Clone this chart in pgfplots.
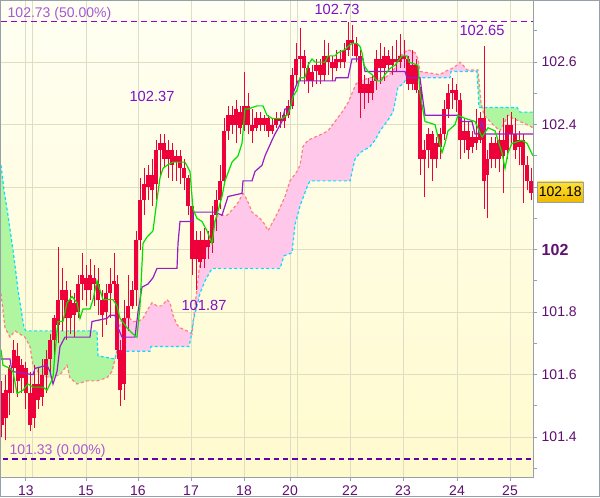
\documentclass[border=0pt]{standalone}
\usepackage{fontspec}
\setmainfont{Liberation Sans}
\usepackage{pgfplots}
\usepackage{pgfplotstable}
\pgfplotsset{compat=1.18}

\definecolor{candlered}{RGB}{238,0,58}
\definecolor{tenkan}{RGB}{0,225,0}
\definecolor{kijun}{RGB}{150,30,200}
\definecolor{spana}{RGB}{255,128,128}
\definecolor{spanb}{RGB}{0,225,255}
\definecolor{cloudgreen}{RGB}{176,245,160}
\definecolor{cloudpink}{RGB}{255,200,235}
\definecolor{bgtop}{RGB}{255,255,243}
\definecolor{bgbot}{RGB}{255,250,205}
\definecolor{gridcol}{RGB}{222,222,196}
\definecolor{framegray}{RGB}{150,160,170}
\definecolor{labcol}{RGB}{96,16,112}
\definecolor{annot}{RGB}{128,16,200}
\definecolor{toplevel}{RGB}{153,0,214}
\definecolor{loline}{RGB}{100,0,170}
\definecolor{boxtop}{RGB}{255,225,50}
\definecolor{boxbot}{RGB}{240,185,0}

% x = bar position (pixel column of the chart), o h l c = prices
\pgfplotstableread{
x o h l c
2 101.54 101.58 101.40 101.44
6 101.46 101.60 101.39 101.55
10 101.54 101.63 101.47 101.62
14 101.62 101.71 101.54 101.68
18 101.66 101.70 101.53 101.58
22 101.59 101.65 101.54 101.63
26 101.62 101.64 101.49 101.54
30 101.54 101.61 101.42 101.44
34 101.46 101.63 101.43 101.57
38 101.57 101.62 101.49 101.52
42 101.53 101.65 101.50 101.60
46 101.60 101.68 101.54 101.65
50 101.65 101.73 101.60 101.71
54 101.71 101.79 101.65 101.78
58 101.76 102.01 101.70 101.84
62 101.84 101.94 101.74 101.87
66 101.87 101.90 101.71 101.78
70 101.78 101.87 101.73 101.84
74 101.83 101.86 101.72 101.79
78 101.80 101.92 101.78 101.89
82 101.89 101.99 101.84 101.92
86 101.91 101.95 101.82 101.87
90 101.87 101.97 101.84 101.92
94 101.91 101.95 101.82 101.89
98 101.89 101.94 101.79 101.84
102 101.84 101.87 101.72 101.79
106 101.80 101.89 101.76 101.86
110 101.86 101.94 101.78 101.89
114 101.89 101.99 101.84 101.90
117 101.89 101.92 101.65 101.68
120 101.68 101.71 101.50 101.55
124 101.57 101.84 101.52 101.78
128 101.78 101.92 101.74 101.82
132 101.82 101.90 101.81 101.87
136 101.87 102.06 101.82 102.03
140 102.03 102.23 102.00 102.16
144 102.16 102.26 102.11 102.21
148 102.20 102.27 102.16 102.24
152 102.24 102.29 102.14 102.19
156 102.21 102.35 102.16 102.32
160 102.32 102.37 102.24 102.34
164 102.34 102.37 102.26 102.29
168 102.29 102.35 102.23 102.32
172 102.32 102.34 102.22 102.27
176 102.28 102.32 102.22 102.30
180 102.30 102.32 102.21 102.26
184 102.26 102.29 102.19 102.23
188 102.23 102.24 102.11 102.14
192 102.14 102.16 101.92 101.97
196 101.97 102.06 101.87 102.03
200 102.03 102.06 101.94 101.96
204 101.97 102.07 101.94 102.03
208 102.03 102.06 101.97 102.01
212 102.02 102.14 101.99 102.11
216 102.11 102.19 102.06 102.16
220 102.16 102.27 102.13 102.22
224 102.22 102.42 102.21 102.38
228 102.38 102.46 102.35 102.43
232 102.43 102.46 102.37 102.40
236 102.40 102.48 102.34 102.45
240 102.44 102.46 102.37 102.39
244 102.40 102.57 102.38 102.46
248 102.46 102.50 102.37 102.40
252 102.40 102.45 102.34 102.38
256 102.39 102.44 102.38 102.42
260 102.42 102.44 102.38 102.40
264 102.40 102.43 102.38 102.42
268 102.42 102.43 102.36 102.38
272 102.38 102.42 102.37 102.40
276 102.40 102.44 102.39 102.42
280 102.42 102.44 102.39 102.41
284 102.41 102.45 102.39 102.43
288 102.43 102.48 102.42 102.46
292 102.46 102.58 102.45 102.56
296 102.56 102.66 102.53 102.61
300 102.61 102.71 102.54 102.62
304 102.62 102.64 102.53 102.58
308 102.58 102.60 102.50 102.54
312 102.54 102.59 102.52 102.57
316 102.57 102.61 102.53 102.59
320 102.59 102.61 102.53 102.56
324 102.56 102.67 102.54 102.62
328 102.62 102.66 102.56 102.60
332 102.60 102.62 102.54 102.58
336 102.58 102.64 102.57 102.61
340 102.61 102.64 102.58 102.60
344 102.60 102.66 102.58 102.64
348 102.64 102.73 102.62 102.67
352 102.67 102.72 102.62 102.66
356 102.66 102.68 102.60 102.62
360 102.62 102.64 102.42 102.50
364 102.50 102.56 102.45 102.53
368 102.53 102.55 102.47 102.50
372 102.50 102.56 102.48 102.54
376 102.54 102.64 102.51 102.61
380 102.61 102.66 102.53 102.58
384 102.58 102.65 102.54 102.62
388 102.62 102.64 102.57 102.59
392 102.59 102.65 102.56 102.61
396 102.61 102.67 102.57 102.60
400 102.60 102.69 102.58 102.62
404 102.62 102.67 102.58 102.61
408 102.61 102.62 102.51 102.53
412 102.53 102.64 102.51 102.59
416 102.59 102.61 102.50 102.51
420 102.51 102.52 102.24 102.29
424 102.29 102.35 102.17 102.32
428 102.32 102.39 102.26 102.37
432 102.37 102.38 102.22 102.29
436 102.29 102.36 102.26 102.34
440 102.33 102.39 102.29 102.37
444 102.37 102.48 102.35 102.45
448 102.45 102.53 102.42 102.50
452 102.50 102.55 102.45 102.51
456 102.51 102.53 102.44 102.48
460 102.48 102.50 102.29 102.35
464 102.35 102.42 102.31 102.38
468 102.38 102.41 102.29 102.32
472 102.33 102.38 102.31 102.36
476 102.36 102.45 102.32 102.34
480 102.35 102.44 102.34 102.42
484 102.42 102.65 102.13 102.22
487 102.24 102.32 102.10 102.29
491 102.29 102.36 102.26 102.34
495 102.34 102.36 102.26 102.29
499 102.29 102.38 102.25 102.35
503 102.35 102.42 102.18 102.30
507 102.32 102.43 102.29 102.40
511 102.40 102.44 102.34 102.37
515 102.37 102.42 102.29 102.32
519 102.33 102.38 102.27 102.35
523 102.35 102.37 102.15 102.27
527 102.27 102.30 102.19 102.22
531 102.22 102.26 102.16 102.18
}\candles

% leading span A (salmon dashed) and leading span B (cyan dashed)
\pgfplotstableread{
x y
1 101.86
5 101.75
10 101.72
15 101.74
20 101.73
25 101.72
30 101.69
33 101.63
40 101.60
50 101.59
60 101.60
67 101.63
70 101.59
77 101.57
87 101.58
97 101.58
107 101.59
112 101.61
115 101.65
117 101.68
120 101.76
122 101.78
130 101.78
133 101.77
138 101.77
143 101.78
148 101.81
152 101.83
157 101.82
162 101.82
167 101.84
170 101.83
173 101.79
177 101.76
180 101.75
187 101.74
192 101.73
195 101.82
200 101.96
208 102.02
213 102.08
218 102.11
227 102.11
233 102.13
238 102.15
243 102.18
247 102.16
252 102.12
260 102.10
265 102.08
268 102.06
273 102.09
278 102.12
285 102.17
290 102.22
297 102.25
300 102.27
303 102.33
308 102.35
315 102.36
322 102.37
328 102.38
335 102.41
342 102.44
348 102.47
352 102.50
356 102.53
360 102.54
370 102.55
385 102.55
393 102.57
400 102.62
404 102.63
408 102.64
415 102.63
418 102.61
420 102.57
440 102.56
445 102.57
452 102.58
457 102.59
460 102.60
463 102.59
467 102.575
478 102.575
481 102.47
484 102.43
487 102.42
493 102.40
500 102.38
505 102.41
508 102.43
513 102.42
520 102.41
527 102.40
533 102.39
}\spanA
\pgfplotstableread{
x y
1 102.27
4 102.19
8 102.11
12 102.02
15 101.95
18 101.87
21 101.81
24 101.75
26 101.74
97 101.74
98 101.66
115 101.65
117 101.675
150 101.675
151 101.69
189 101.69
191 101.72
193 101.77
197 101.82
200 101.86
205 101.90
212 101.94
280 101.94
284 101.98
292 101.99
295 102.08
300 102.14
307 102.20
310 102.22
350 102.22
355 102.29
360 102.31
370 102.33
375 102.35
380 102.38
387 102.41
393 102.44
395 102.47
398 102.52
403 102.53
407 102.55
450 102.55
451 102.57
477 102.57
479 102.455
517 102.455
520 102.44
533 102.44
}\spanB

\begin{document}
\begin{tikzpicture}
\useasboundingbox (-0.75pt,-15pt) rectangle (449.25pt,357.75pt);
\fill[white] (-0.75pt,-15pt) rectangle (449.25pt,357.75pt);
\begin{axis}[
  at={(0pt,0pt)}, anchor=south west,
  width=399pt, height=357pt, scale only axis,
  xmin=1, xmax=533, ymin=101.2724, ymax=102.7956,
  axis background/.style={shade, top color=bgtop, bottom color=bgbot},
  axis line style={framegray, line width=0.75pt},
  tick align=outside, xtick pos=left, ytick pos=right, yticklabel pos=right,
  major tick length=3pt, minor tick length=3pt,
  tick style={framegray, line width=0.75pt},
  xtick={26,86,138,191,244,290,350,403,457,510},
  xticklabels={13,15,16,17,18,20,22,23,24,25},
  extra x ticks={32,297}, extra x tick labels={},
  extra x tick style={major tick length=0pt, grid=major},
  ytick={101.4,101.6,101.8,102,102.2,102.4,102.6},
  yticklabels={101.4,101.6,101.8,{\bfseries\fontsize{12}{12}\selectfont 102},{},102.4,102.6},
  minor ytick={101.3,101.5,101.7,101.9,102.1,102.3,102.5,102.7},
  grid=major, grid style={gridcol, line width=0.75pt},
  ticklabel style={font=\fontsize{10.5}{12}\selectfont, text=labcol},
]

% Ichimoku cloud: span A out, span B back
\addplot[fill=cloudgreen, draw=none, forget plot] coordinates {
(1,101.86) (5,101.75) (10,101.72) (15,101.74) (20,101.73) (25,101.72) (30,101.69) (33,101.63)
(40,101.60) (50,101.59) (60,101.60) (67,101.63) (70,101.59) (77,101.57) (87,101.58) (97,101.58)
(107,101.59) (112,101.61) (115,101.65)
(98,101.66) (97,101.74) (26,101.74) (24,101.75) (21,101.81) (18,101.87) (15,101.95) (12,102.02)
(8,102.11) (4,102.19) (1,102.27)};
\addplot[fill=cloudpink, draw=none, forget plot] coordinates {
(115,101.65) (117,101.68) (120,101.76) (122,101.78) (130,101.78) (133,101.77) (138,101.77)
(143,101.78) (148,101.81) (152,101.83) (157,101.82) (162,101.82) (167,101.84) (170,101.83)
(173,101.79) (177,101.76) (180,101.75) (187,101.74) (192,101.73) (195,101.82) (200,101.96)
(208,102.02) (213,102.08) (218,102.11) (227,102.11) (233,102.13) (238,102.15) (243,102.18)
(247,102.16) (252,102.12) (260,102.10) (265,102.08) (268,102.06) (273,102.09) (278,102.12)
(285,102.17) (290,102.22) (297,102.25) (300,102.27) (303,102.33) (308,102.35) (315,102.36)
(322,102.37) (328,102.38) (335,102.41) (342,102.44) (348,102.47) (352,102.50) (356,102.53)
(360,102.54) (370,102.55) (385,102.55) (393,102.57) (400,102.62) (404,102.63) (408,102.64)
(415,102.63) (418,102.61) (420,102.57) (440,102.56) (445,102.57) (452,102.58) (457,102.59)
(460,102.60) (463,102.59) (467,102.575) (478,102.575)
(477,102.57) (451,102.57) (450,102.55) (407,102.55) (403,102.53) (398,102.52) (395,102.47)
(393,102.44) (387,102.41) (380,102.38) (375,102.35) (370,102.33) (360,102.31) (355,102.29)
(350,102.22) (310,102.22) (307,102.20) (300,102.14) (295,102.08) (292,101.99) (284,101.98)
(280,101.94) (212,101.94) (205,101.90) (200,101.86) (197,101.82) (193,101.77) (191,101.72)
(189,101.69) (151,101.69) (150,101.675) (117,101.675)};
\addplot[fill=cloudgreen, draw=none, forget plot] coordinates {
(478,102.575) (481,102.47) (484,102.43) (487,102.42) (493,102.40) (500,102.38) (505,102.41)
(508,102.43) (513,102.42) (520,102.41) (527,102.40) (533,102.39)
(533,102.44) (520,102.44) (517,102.455) (479,102.455) (477,102.57)};
\addplot[draw=spana, line width=0.9pt, dash pattern=on 2.2pt off 1.8pt] table[x=x, y=y] {\spanA};
\addplot[draw=spanb, line width=0.9pt, dash pattern=on 2.2pt off 1.8pt] table[x=x, y=y] {\spanB};

% 50% / 0% levels
\addplot[draw=toplevel, line width=0.8pt, dash pattern=on 4.5pt off 3pt] coordinates {(1,102.73) (533,102.73)};
\addplot[draw=loline, line width=0.8pt, dash pattern=on 4pt off 3pt] coordinates {(3,101.33) (533,101.33)};

% candles: wicks then bodies
\addplot[draw=none, mark=none, forget plot,
  error bars/.cd, y dir=plus, y explicit, error mark=none,
  error bar style={draw=candlered, line width=0.75pt}]
  table[x=x, y=l, y error plus expr=\thisrow{h}-\thisrow{l}] {\candles};
\addplot[draw=none, mark=none, forget plot,
  error bars/.cd, y dir=plus, y explicit, error mark=none,
  error bar style={draw=candlered, line width=2.5pt}]
  table[x=x, y expr={min(\thisrow{o},\thisrow{c})}, y error plus expr={abs(\thisrow{o}-\thisrow{c})}] {\candles};

% Kijun
\addplot[draw=kijun, line width=0.9pt] coordinates {
(1,101.65) (10,101.65) (12,101.61) (33,101.60) (35,101.62) (47,101.63) (50,101.61) (53,101.57)
(57,101.61) (60,101.69) (65,101.72) (90,101.72) (92,101.77) (107,101.78) (110,101.79) (115,101.79)
(118,101.75) (122,101.72) (135,101.72) (138,101.80) (142,101.88) (148,101.89) (153,101.91)
(157,101.94) (177,101.94) (178,102.02) (180,102.09) (192,102.09) (193,102.12) (215,102.12)
(222,102.11) (225,102.14) (228,102.17) (242,102.18) (243,102.22) (252,102.22) (255,102.25)
(262,102.27) (265,102.30) (272,102.35) (275,102.37) (282,102.41) (285,102.45) (290,102.45)
(293,102.50) (298,102.54) (335,102.54) (336,102.55) (348,102.55) (352,102.61) (363,102.61)
(365,102.57) (405,102.57) (407,102.55) (420,102.55) (422,102.50) (425,102.43) (458,102.43)
(462,102.41) (472,102.41) (475,102.37) (478,102.37) (482,102.41) (485,102.37) (533,102.37)
};
% Tenkan
\addplot[draw=tenkan, line width=0.9pt] coordinates {
(1,101.68) (3,101.63) (10,101.62) (13,101.61) (17,101.54) (23,101.55) (28,101.57) (33,101.56)
(43,101.56) (47,101.55) (53,101.59) (55,101.67) (58,101.77) (63,101.77) (67,101.83) (72,101.85)
(77,101.83) (80,101.78) (83,101.81) (90,101.81) (93,101.84) (97,101.90) (100,101.87) (103,101.84)
(113,101.84) (117,101.82) (120,101.78) (127,101.75) (133,101.73) (137,101.72) (140,101.82)
(143,102.02) (147,102.04) (153,102.06) (157,102.16) (160,102.23) (163,102.26) (167,102.27)
(173,102.28) (185,102.28) (190,102.25) (193,102.13) (197,102.10) (202,102.09) (207,102.06)
(212,102.02) (215,102.09) (222,102.17) (225,102.22) (232,102.28) (238,102.30) (242,102.34)
(245,102.45) (248,102.45) (257,102.46) (263,102.46) (267,102.43) (272,102.42) (282,102.42)
(287,102.43) (290,102.45) (293,102.49) (297,102.51) (300,102.55) (305,102.55) (308,102.59)
(312,102.61) (315,102.60) (325,102.60) (328,102.62) (335,102.62) (338,102.63) (345,102.64)
(348,102.65) (352,102.66) (357,102.66) (360,102.65) (362,102.63) (364,102.59) (368,102.57)
(372,102.56) (377,102.54) (381,102.54) (385,102.56) (390,102.58) (395,102.59) (402,102.62)
(407,102.62) (409,102.60) (418,102.59) (420,102.50) (425,102.41) (435,102.40) (438,102.36)
(442,102.31) (445,102.34) (448,102.38) (455,102.40) (458,102.43) (465,102.42) (475,102.41)
(482,102.36) (488,102.39) (495,102.38) (498,102.35) (502,102.31) (505,102.26) (508,102.31)
(512,102.34) (522,102.35) (527,102.34) (533,102.30)
};

% labels
\node[anchor=west, text=annot!70, font=\fontsize{10.5}{12}\selectfont] at (axis cs:3,102.755) {102.73 (50.00\%)};
\node[anchor=west, text=annot!70, font=\fontsize{10.5}{12}\selectfont] at (axis cs:5,101.356) {101.33 (0.00\%)};
\node[text=annot, font=\fontsize{11}{12}\selectfont] at (axis cs:152,102.49) {102.37};
\node[text=annot, font=\fontsize{11}{12}\selectfont] at (axis cs:337,102.77) {102.73};
\node[text=annot, font=\fontsize{11}{12}\selectfont] at (axis cs:482,102.70) {102.65};
\node[text=annot, font=\fontsize{11}{12}\selectfont] at (axis cs:204,101.82) {101.87};
\coordinate (lastprice) at (axis cs:533,102.185);
\end{axis}
\node[draw=framegray, top color=boxtop, bottom color=boxbot, inner sep=0pt,
  minimum width=34.5pt, minimum height=15pt, font=\fontsize{10.5}{12}\selectfont,
  anchor=west] at ([xshift=3pt]lastprice) {102.18};
\draw[framegray, line width=0.75pt] (-0.375pt,-14.625pt) rectangle (448.875pt,357.375pt);
\end{tikzpicture}
\end{document}
